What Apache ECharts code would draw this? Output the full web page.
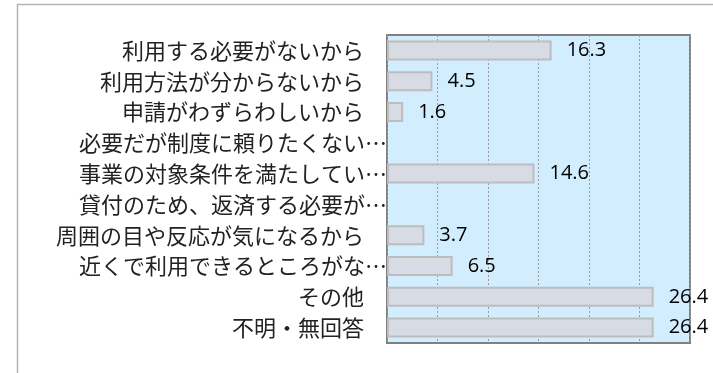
<!DOCTYPE html>
<html><head><meta charset="utf-8">
<script src="https://cdn.jsdelivr.net/npm/echarts@6/dist/echarts.min.js"></script>
<style>html,body{margin:0;padding:0;background:#fff}#c{width:713px;height:373px}</style>
</head><body><div id="c"></div>
<script>
const categories = [
  "利用する必要がないから",
  "利用方法が分からないから",
  "申請がわずらわしいから",
  "必要だが制度に頼りたくない…",
  "事業の対象条件を満たしてい…",
  "貸付のため、返済する必要が…",
  "周囲の目や反応が気になるから",
  "近くで利用できるところがな…",
  "その他",
  "不明・無回答"
];
const values = [16.3, 4.5, 1.6, null, 14.6, null, 3.7, 6.5, 26.4, 26.4];
const axisMin = 0, axisMax = 30, axisStep = 5;

const chart = echarts.init(document.getElementById('c'), null, {renderer:'canvas'});
chart.setOption({
  animation: false,
  graphic: [{
    type: 'rect', silent: true, z: -10,
    shape: {x: 17.5, y: 4.5, width: 720, height: 400},
    style: {fill: 'none', stroke: '#b4b4b4', lineWidth: 1.5}
  }],
  grid: {left: 387, top: 35, right: 23, bottom: 30, show: true,
         backgroundColor: '#d2edfd', borderColor: '#808080', borderWidth: 2},
  xAxis: {
    type: 'value', min: axisMin, max: axisMax, interval: axisStep,
    axisLabel: {show: false}, axisTick: {show: false}, axisLine: {show: false},
    splitLine: {show: true, lineStyle: {color: '#9a9a9a', type: [2, 2], width: 1}}
  },
  yAxis: {
    type: 'category', data: categories, inverse: true,
    axisLine: {show: false}, axisTick: {show: false},
    axisLabel: {
      margin: 0, fontSize: 22, color: '#222',
      fontFamily: '"Noto Sans CJK JP"',
      formatter: function (v) {
        return v.endsWith('…') ? '{t|' + v + '}' : '{t|' + v + '}{p|}';
      },
      rich: {
        t: {fontSize: 22, fontFamily: '"Noto Sans CJK JP"', color: '#222'},
        p: {width: 23}
      }
    }
  },
  series: [{
    type: 'bar', data: values, barWidth: 20,
    itemStyle: {color: '#d6dbe4', borderColor: '#bdbdbd', borderWidth: 2},
    label: {show: true, position: 'right', distance: 15,
            fontSize: 20, fontFamily: '"Open Sans"', color: '#000'}
  }]
});
</script></body></html>
